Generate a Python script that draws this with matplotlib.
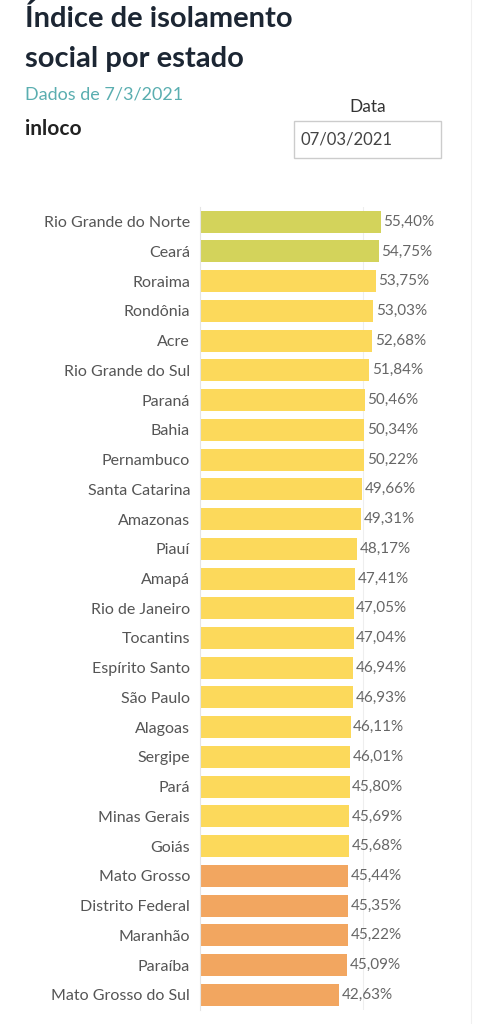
import matplotlib
matplotlib.use("Agg")
import matplotlib.pyplot as plt
from matplotlib.patches import Rectangle

plt.rcParams['font.family'] = ['Lato', 'DejaVu Sans']

states = ["Rio Grande do Norte","Ceará","Roraima","Rondônia","Acre","Rio Grande do Sul","Paraná","Bahia",
          "Pernambuco","Santa Catarina","Amazonas","Piauí","Amapá","Rio de Janeiro","Tocantins","Espírito Santo",
          "São Paulo","Alagoas","Sergipe","Pará","Minas Gerais","Goiás","Mato Grosso","Distrito Federal",
          "Maranhão","Paraíba","Mato Grosso do Sul"]
values = [55.40,54.75,53.75,53.03,52.68,51.84,50.46,50.34,50.22,49.66,49.31,48.17,47.41,47.05,47.04,46.94,
          46.93,46.11,46.01,45.80,45.69,45.68,45.44,45.35,45.22,45.09,42.63]
groups = ["g"]*2 + ["y"]*20 + ["o"]*5
palette = {"g": "#d3d35b", "y": "#fcd95b", "o": "#f2a660"}

fig = plt.figure(figsize=(4.91, 10.24), dpi=100)
ax = fig.add_axes([0.407, 0.014, 0.55, 0.784])
y = list(range(len(states)))
ax.barh(y, values, height=0.74, color=[palette[g] for g in groups])
ax.set_ylim(len(states)-0.5, -0.5)
ax.set_xlim(0, 82.6)
ax.axvline(50, color="#eeeeee", lw=0.8, zorder=0)
ax.set_yticks(y)
ax.set_yticklabels(states, fontsize=11.5, color="#555555")
ax.tick_params(axis='y', length=0, pad=7)
ax.set_xticks([])
for s in ax.spines.values():
    s.set_visible(False)
ax.spines['left'].set_visible(True)
ax.spines['left'].set_color("#e5e5e5")
for i, v in enumerate(values):
    ax.text(v + 0.8, i, f"{v:.2f}%".replace(".", ","), va="center", ha="left", fontsize=11, color="#666666")

fig.text(0.05, 0.995, "Índice de isolamento", fontsize=21, fontweight="bold", color="#1c2633", va="top")
fig.text(0.05, 0.955, "social por estado", fontsize=21, fontweight="bold", color="#1c2633", va="top")
fig.text(0.05, 0.916, "Dados de 7/3/2021", fontsize=13, color="#5aaeb0", va="top")
fig.text(0.05, 0.884, "inloco", fontsize=15, fontweight="bold", color="#222222", va="top")
fig.text(0.748, 0.903, "Data", fontsize=12.5, color="#333333", va="top", ha="center")
fig.add_artist(Rectangle((0.598, 0.846), 0.301, 0.036, transform=fig.transFigure,
                         facecolor="white", edgecolor="#cccccc", lw=1))
fig.text(0.612, 0.864, "07/03/2021", fontsize=12, color="#444444", va="center")
fig.add_artist(plt.Line2D([0.959, 0.959], [0, 1], transform=fig.transFigure, color="#f0f0f0", lw=0.8))
fig.savefig("out.png", dpi=100, facecolor="white")
